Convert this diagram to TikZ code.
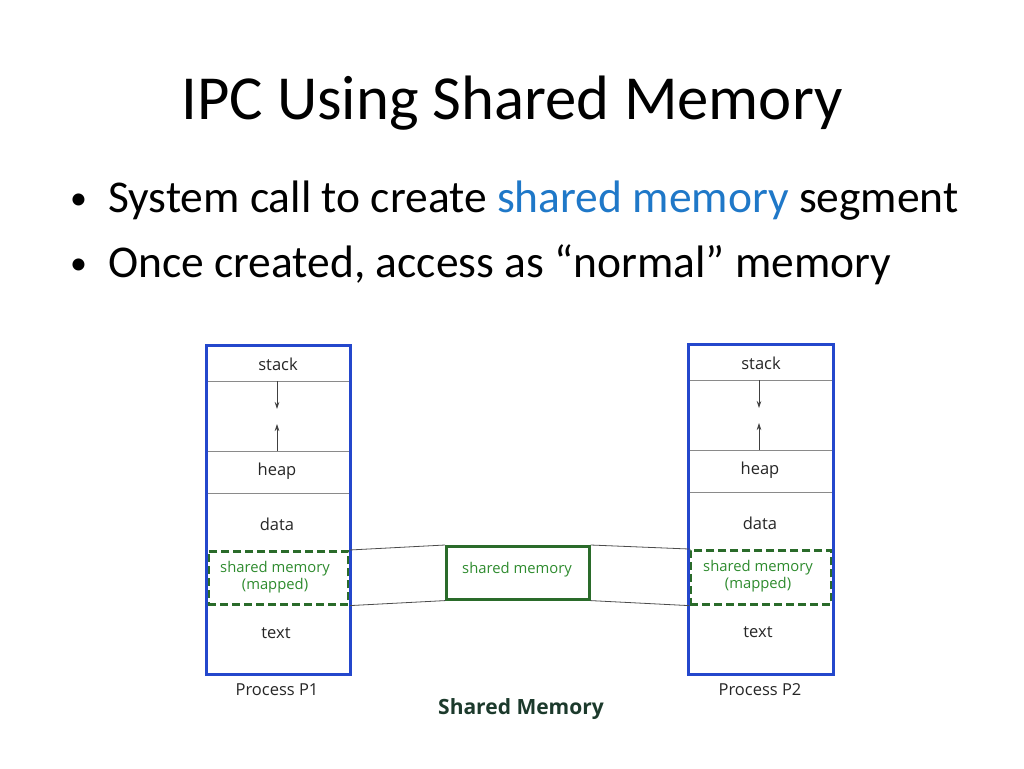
\documentclass[tikz,border=0pt]{standalone}
\usepackage{fontspec}
\setmainfont{Carlito}
\newfontfamily\diag{Open Sans}
\usetikzlibrary{arrows.meta}
\definecolor{pblue}{HTML}{2447CC}
\definecolor{sgreen}{HTML}{2E8B2E}
\definecolor{dgreen}{HTML}{2A6B2A}
\definecolor{linkblue}{HTML}{1F78C8}
\definecolor{capgreen}{HTML}{1C3A2C}
\definecolor{sep}{HTML}{8A8A8A}
\tikzset{
  procbox/.style={draw=pblue, line width=3pt},
  seg/.style={draw=sep, line width=0.9pt},
  mapped/.style={draw=dgreen, dashed, dash pattern=on 8pt off 4pt, line width=2.6pt},
  shmbox/.style={draw=dgreen, line width=2.6pt},
  lbl/.style={font=\diag\fontsize{16.5}{18}\selectfont, text=black!85, inner sep=0pt},
  glbl/.style={font=\diag\fontsize{14.8}{17}\selectfont, text=sgreen, align=center, inner sep=0pt},
  link/.style={draw=black!70, line width=0.8pt},
  growarrow/.style={draw=black!75, line width=0.7pt, -{Stealth[length=7pt,width=4.5pt]}},
  bullet/.style={font=\fontsize{45.5}{50}\selectfont, anchor=base west, inner sep=0pt},
  bdot/.style={font=\fontsize{34}{40}\selectfont, anchor=base west, inner sep=0pt}
}
\begin{document}
\begin{tikzpicture}[x=1pt,y=-1pt]
\useasboundingbox (0,0) rectangle (1024,768);
% title and bullets
\node[font=\fontsize{62.7}{70}\selectfont, anchor=base, inner sep=0pt] (title) at (512,119) {IPC Using Shared Memory};
\node[bdot] (b1d) at (70,209) {\textbullet};
\node[bullet] (b1) at (108,212) {System call to create \textcolor{linkblue}{shared memory} segment};
\node[bdot] (b2d) at (70,274) {\textbullet};
\node[bullet] (b2) at (108,277) {Once created, access as “normal” memory};

% Process P1
\coordinate (p1tl) at (206,345);
\coordinate (p1br) at (350,674);
\draw[seg] (206,381) -- (350,381);
\draw[seg] (206,451) -- (350,451);
\draw[seg] (206,493) -- (350,493);
\coordinate (p1a) at (277,381);
\coordinate (p1b) at (277,409);
\coordinate (p1c) at (277,451);
\coordinate (p1d) at (277,424);
\draw[growarrow] (p1a) -- (p1b);
\draw[growarrow] (p1c) -- (p1d);
\node[lbl, anchor=base] (p1stack) at (278,370) {stack};
\node[lbl, anchor=base] (p1heap) at (277,475) {heap};
\node[lbl, anchor=base] (p1data) at (277,530) {data};
\node[lbl, anchor=base] (p1text) at (276,638) {text};
\node[mapped, minimum width=140pt, minimum height=53pt, inner sep=0pt, anchor=north west] (m1) at (207,550) {};
\node[glbl] (m1t) at (275,577) {shared memory\\(mapped)};
\draw[procbox] (p1tl) rectangle (p1br);
\node[lbl, anchor=base] (p1name) at (277,695) {Process P1};

% Process P2
\coordinate (p2tl) at (688,344);
\coordinate (p2br) at (833,674);
\draw[seg] (688,380) -- (833,380);
\draw[seg] (688,450) -- (833,450);
\draw[seg] (688,492) -- (833,492);
\coordinate (p2a) at (759,380);
\coordinate (p2b) at (759,408);
\coordinate (p2c) at (759,450);
\coordinate (p2d) at (759,423);
\draw[growarrow] (p2a) -- (p2b);
\draw[growarrow] (p2c) -- (p2d);
\node[lbl, anchor=base] (p2stack) at (761,369) {stack};
\node[lbl, anchor=base] (p2heap) at (760,474) {heap};
\node[lbl, anchor=base] (p2data) at (760,529) {data};
\node[lbl, anchor=base] (p2text) at (758,637) {text};
\node[mapped, minimum width=141pt, minimum height=54pt, inner sep=0pt, anchor=north west] (m2) at (689,549) {};
\node[glbl] (m2t) at (758,576) {shared memory\\(mapped)};
\draw[procbox] (p2tl) rectangle (p2br);
\node[lbl, anchor=base] (p2name) at (760,695) {Process P2};

% shared memory segment
\node[shmbox, minimum width=143pt, minimum height=53pt, inner sep=0pt, anchor=north west] (shm) at (445,545) {};
\node[glbl, anchor=base] (shmt) at (517,573) {shared memory};

% links
\draw[link] (m1.north east) -- (shm.north west);
\draw[link] (m1.south east) -- (shm.south west);
\draw[link] (shm.north east) -- (m2.north west);
\draw[link] (shm.south east) -- (m2.south west);

\node[font=\diag\bfseries\fontsize{21}{23}\selectfont, text=capgreen, anchor=base, inner sep=0pt] (cap) at (521,714) {Shared Memory};
\end{tikzpicture}
\end{document}
